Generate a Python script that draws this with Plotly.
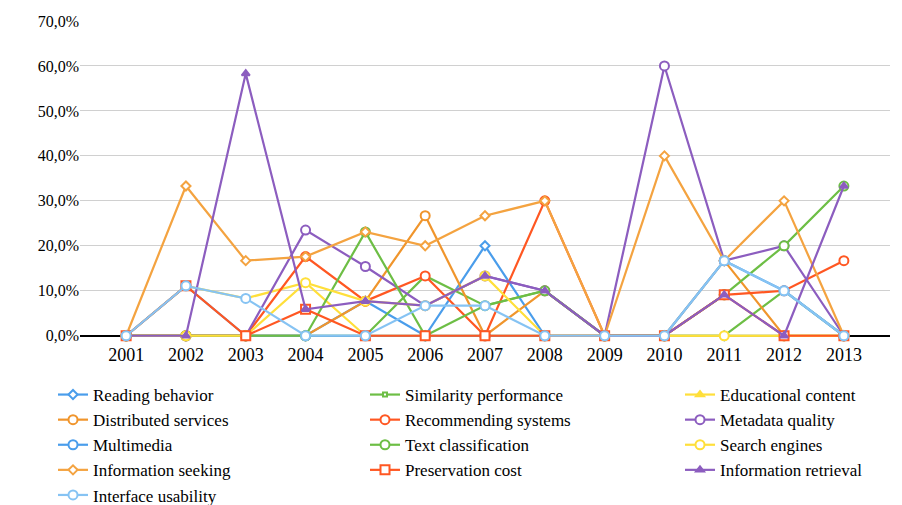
import plotly.graph_objects as go

# Years on the category axis
years = [str(y) for y in range(2001, 2014)]

# Share of publications per topic and year (percent)
reading_behavior = [0, 0, 0, 0, 7.7, 0, 20.0, 0, 0, 0, 0, 0, 0]
similarity_performance = [0, 0, 0, 0, 0, 13.3, 6.7, 10.0, 0, 0, 0, 10.0, 0]
educational_content = [0, 11.1, 8.3, 11.8, 0, 0, 0, 0, 0, 0, 0, 0, 0]
distributed_services = [0, 0, 0, 0, 7.7, 26.7, 0, 10.0, 0, 0, 16.7, 0, 0]
recommending_systems = [0, 0, 0, 17.6, 7.7, 13.3, 0, 30.0, 0, 0, 9.1, 10.0, 16.7]
metadata_quality = [0, 0, 0, 23.5, 15.4, 6.7, 13.3, 10.0, 0, 60.0, 16.7, 20.0, 0]
multimedia = [0, 11.1, 0, 0, 0, 0, 0, 0, 0, 0, 16.7, 10.0, 0]
text_classification = [0, 0, 0, 0, 23.1, 0, 6.7, 10.0, 0, 0, 9.1, 20.0, 33.3]
search_engines = [0, 0, 0, 11.8, 7.7, 6.7, 13.3, 0, 0, 0, 0, 0, 0]
information_seeking = [0, 33.3, 16.7, 17.6, 23.1, 20.0, 26.7, 30.0, 0, 40.0, 16.7, 30.0, 0]
preservation_cost = [0, 11.1, 0, 5.9, 0, 0, 0, 0, 0, 0, 9.1, 0, 0]
information_retrieval = [0, 0, 58.3, 5.9, 7.7, 6.7, 13.3, 10.0, 0, 0, 9.1, 0, 33.3]
interface_usability = [0, 11.1, 8.3, 0, 0, 6.7, 6.7, 0, 0, 0, 16.7, 10.0, 0]

y_ticks = [0, 0.1, 0.2, 0.3, 0.4, 0.5, 0.6, 0.7]

BLUE = "#4A9DEB"
LIGHT_BLUE = "#86C3F3"
GREEN = "#6DBE45"
YELLOW = "#FFDF3A"
ORANGE_DARK = "#F0952C"
ORANGE = "#F4A340"
RED = "#FF5722"
PURPLE = "#8C5DBF"

FONT = "Liberation Serif"

W, H = 902, 505
PLOT_L, PLOT_R, PLOT_T = 80, 12, 21
LEGEND_TOP = 377          # px from the top of the page
LEGEND_Y = 1 - LEGEND_TOP / H
# the legends reserve space at the bottom on top of margin.b
PLOT_B = 42
PLOT_W = W - PLOT_L - PLOT_R

# name, values, colour, marker symbol, marker size, filled marker, legend column
series = [
    ("Reading behavior", reading_behavior, BLUE, "diamond", 7, False, "legend"),
    ("Similarity performance", similarity_performance, GREEN, "square", 4, False, "legend2"),
    ("Educational content", educational_content, YELLOW, "triangle-up", 7, True, "legend3"),
    ("Distributed services", distributed_services, ORANGE_DARK, "circle", 9, False, "legend"),
    ("Recommending systems", recommending_systems, RED, "circle", 9, False, "legend2"),
    ("Metadata quality", metadata_quality, PURPLE, "circle", 9, False, "legend3"),
    ("Multimedia", multimedia, BLUE, "circle", 9, False, "legend"),
    ("Text classification", text_classification, GREEN, "circle", 9, False, "legend2"),
    ("Search engines", search_engines, YELLOW, "circle", 9, False, "legend3"),
    ("Information seeking", information_seeking, ORANGE, "diamond", 7, False, "legend"),
    ("Preservation cost", preservation_cost, RED, "square", 9, False, "legend2"),
    ("Information retrieval", information_retrieval, PURPLE, "triangle-up", 7, True, "legend3"),
    ("Interface usability", interface_usability, LIGHT_BLUE, "circle", 9, False, "legend"),
]

fig = go.Figure()
for name, vals, color, symbol, size, filled, leg in series:
    fig.add_trace(go.Scatter(
        x=years,
        y=[v / 100 for v in vals],
        name=name,
        legend=leg,
        mode="lines+markers",
        line=dict(color=color, width=2.2),
        marker=dict(
            symbol=symbol,
            size=size,
            color=color if filled else "white",
            line=dict(color=color, width=2),
        ),
        cliponaxis=False,
    ))

legend_style = dict(
    orientation="v",
    xref="paper",
    yref="container",
    xanchor="left",
    yanchor="top",
    y=LEGEND_Y,
    font=dict(family=FONT, size=17, color="black"),
    itemclick=False,
    traceorder="normal",
    bgcolor="rgba(0,0,0,0)",
)


def col_x(px):
    return (px - PLOT_L) / PLOT_W


fig.update_layout(
    width=W,
    height=H,
    margin=dict(l=PLOT_L, r=PLOT_R, t=PLOT_T, b=PLOT_B),
    paper_bgcolor="white",
    plot_bgcolor="white",
    separators=", ",
    font=dict(family=FONT, size=16, color="black"),
    xaxis=dict(
        type="category",
        showgrid=False,
        showline=False,
        ticks="",
        ticklabelstandoff=4,
        tickfont=dict(family=FONT, size=18, color="black"),
    ),
    yaxis=dict(
        range=[-0.005, 0.7],
        tickvals=y_ticks,
        tickformat=".1%",
        showgrid=True,
        gridcolor="#D0D0D0",
        gridwidth=1,
        zeroline=True,
        zerolinecolor="black",
        zerolinewidth=1.5,
        showline=False,
        layer="below traces",
        tickfont=dict(family=FONT, size=16, color="black"),
    ),
    legend=dict(legend_style, x=col_x(53)),
    legend2=dict(legend_style, x=col_x(365)),
    legend3=dict(legend_style, x=col_x(680)),
    showlegend=True,
)

fig.write_html("out.html")
